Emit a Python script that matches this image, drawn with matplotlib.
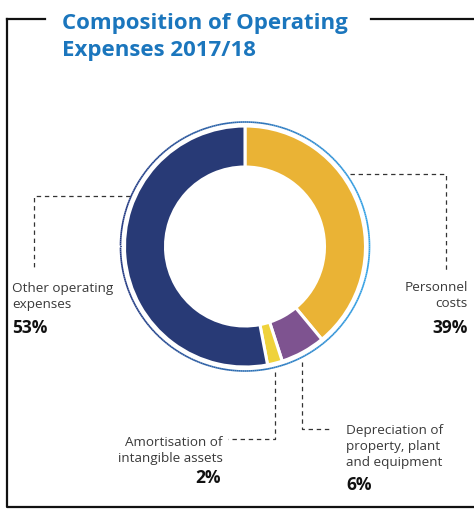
import numpy as np
import matplotlib
matplotlib.use("Agg")
import matplotlib.pyplot as plt
from matplotlib.collections import LineCollection
from matplotlib.colors import to_rgb

plt.rcParams['font.family'] = ['Open Sans', 'DejaVu Sans']

W, H = 474, 509

# cost shares, clockwise from the top
categories = ['Personnel costs', 'Depreciation of property, plant and equipment',
              'Amortisation of intangible assets', 'Other operating expenses']
shares = [39, 6, 2, 53]
colors = ['#eab335', '#7e5390', '#efd23b', '#283a76']

title_lines = ['Composition of Operating', 'Expenses 2017/18']
label_texts = {
    'other': 'Other operating\nexpenses',
    'personnel': 'Personnel\ncosts',
    'amort': 'Amortisation of\nintangible assets',
    'depr': 'Depreciation of\nproperty, plant\nand equipment',
}

fig = plt.figure(figsize=(W / 100, H / 100), dpi=100)
ax = fig.add_axes([0, 0, 1, 1])


def Y(y):
    # work in pixel rows counted from the top
    return H - y


cx, cy = 245, Y(246.5)
r_out, r_in = 120.5, 79.5

ax.pie(shares, colors=colors, startangle=90, counterclock=False,
       center=(cx, cy), radius=r_out,
       wedgeprops=dict(width=r_out - r_in, edgecolor='white', linewidth=2.2))

# thin ring around the donut, shading from navy to bright blue
t = np.linspace(0, 2 * np.pi, 400)
r_ring = 124.5
px = cx + r_ring * np.cos(t)
py = cy + r_ring * np.sin(t)
pts = np.column_stack([px, py]).reshape(-1, 1, 2)
segs = np.concatenate([pts[:-1], pts[1:]], axis=1)
c0, c1 = np.array(to_rgb('#253a82')), np.array(to_rgb('#35a3e6'))
f = ((px[:-1] + px[1:]) / 2 - (cx - r_ring)) / (2 * r_ring)
ring_cols = [tuple(c0 + (c1 - c0) * v) for v in f]
ax.add_collection(LineCollection(segs, colors=ring_cols, linewidth=1.2))

# box around the chart
frame_kw = dict(color='#111111', linewidth=1.6, solid_capstyle='projecting')
ax.plot([7, 7, W], [Y(19), Y(507), Y(507)], **frame_kw)
ax.plot([7, 45], [Y(19), Y(19)], **frame_kw)
ax.plot([371, W], [Y(19), Y(19)], **frame_kw)

for i, line in enumerate(title_lines):
    ax.text(62, Y(28.5 + 27 * i), line, color='#1b76bd', fontsize=16,
            fontweight='bold', va='baseline', ha='left')

# leader lines
dash_kw = dict(color='#333333', linewidth=0.9, linestyle=(0, (3.5, 3)))
ax.plot([130, 34, 34], [Y(196), Y(196), Y(270)], **dash_kw)
ax.plot([350, 446, 446], [Y(174), Y(174), Y(270)], **dash_kw)
ax.plot([275, 275, 228], [Y(372), Y(439), Y(439)], **dash_kw)
ax.plot([302, 302, 332], [Y(362), Y(429), Y(429)], **dash_kw)

lab_kw = dict(color='#3a3a3a', fontsize=9.7, va='baseline', linespacing=1.3)
pct_kw = dict(color='#111111', fontsize=12.5, fontweight='bold', va='baseline')

ax.text(12, Y(308), label_texts['other'], ha='left', **lab_kw)
ax.text(12, Y(333), f'{shares[3]}%', ha='left', **pct_kw)

ax.text(468, Y(307), label_texts['personnel'], ha='right', multialignment='right', **lab_kw)
ax.text(468, Y(333), f'{shares[0]}%', ha='right', **pct_kw)

ax.text(223, Y(462), label_texts['amort'], ha='right', multialignment='right', **lab_kw)
ax.text(221, Y(483), f'{shares[2]}%', ha='right', **pct_kw)

ax.text(346, Y(466), label_texts['depr'], ha='left', **lab_kw)
ax.text(346, Y(490), f'{shares[1]}%', ha='left', **pct_kw)

ax.set_xlim(0, W)
ax.set_ylim(0, H)
ax.set_aspect('auto')
ax.axis('off')

fig.savefig('out.png', dpi=100)
